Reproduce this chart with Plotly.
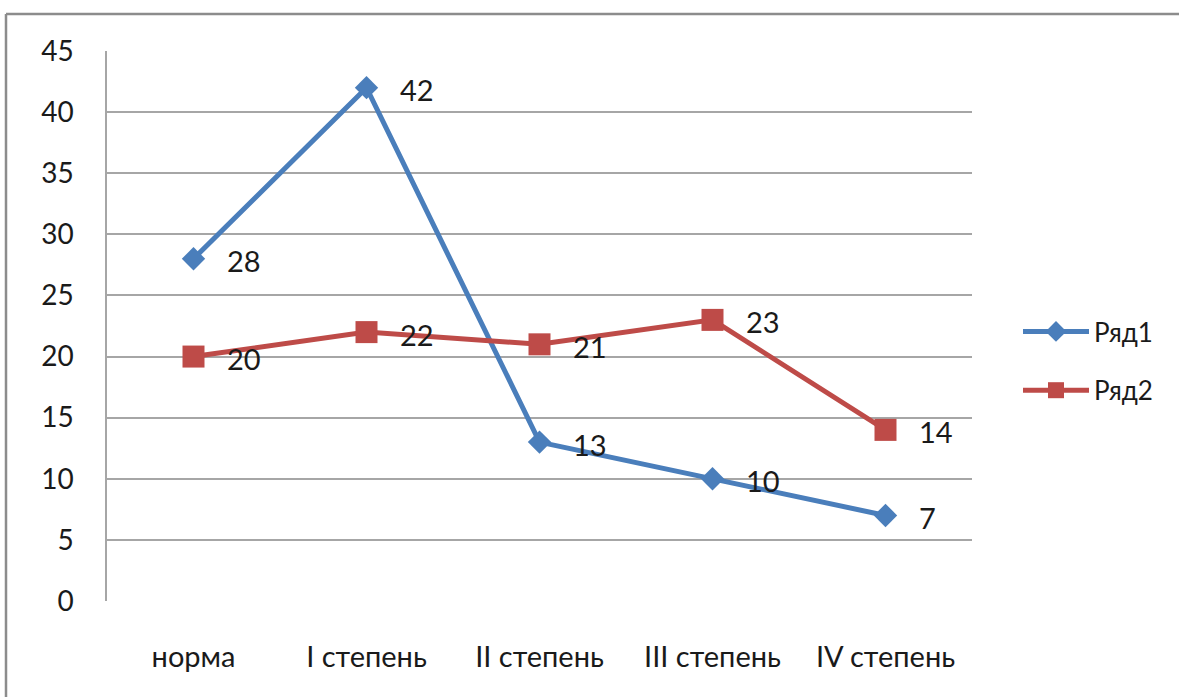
import plotly.graph_objects as go

categories = ["норма", "I степень", "II степень", "III степень", "IV степень"]
row1 = [28, 42, 13, 10, 7]
row2 = [20, 22, 21, 23, 14]
y_ticks = [0, 5, 10, 15, 20, 25, 30, 35, 40, 45]

FONT = "Lato, 'Open Sans', sans-serif"
BLUE = "#4a7ebb"
RED = "#be4b48"

fig = go.Figure()
fig.add_trace(go.Scatter(
    x=categories, y=row1, name="Ряд1", mode="lines+markers", legendgroup="a",
    line=dict(color=BLUE, width=5),
    marker=dict(symbol="diamond", size=18, color=BLUE),
))
fig.add_trace(go.Scatter(
    x=categories, y=row2, name="Ряд2", mode="lines+markers", legendgroup="b",
    line=dict(color=RED, width=5),
    marker=dict(symbol="square", size=22, color=RED),
))

# data labels to the right of each point
for series in (row1, row2):
    for cat, val in zip(categories, series):
        fig.add_annotation(
            x=cat, y=val, text=str(val), showarrow=False,
            xanchor="left", xshift=31, yshift=-2,
            font=dict(family=FONT, size=29, color="#1a1a1a"),
        )

# outer chart border (only top and left edges visible)
bx = (6 - 107) / 865
by = 1 + 37 / 550
fig.add_shape(type="line", xref="paper", yref="paper",
              x0=bx, x1=1.3, y0=by, y1=by,
              line=dict(color="#8c8c8c", width=2.5))
fig.add_shape(type="line", xref="paper", yref="paper",
              x0=bx, x1=bx, y0=by, y1=-0.3,
              line=dict(color="#8c8c8c", width=2.5))

fig.update_layout(
    width=1179, height=697,
    margin=dict(l=107, r=207, t=51, b=96),
    paper_bgcolor="white", plot_bgcolor="white",
    font=dict(family=FONT, size=29, color="#1a1a1a"),
    showlegend=True,
    legend=dict(
        x=(1018 - 107) / 865, y=(601 - 308) / 550, xanchor="left", yanchor="top",
        itemwidth=66, traceorder="grouped", tracegroupgap=22, font=dict(size=26),
        bgcolor="rgba(0,0,0,0)",
    ),
)
fig.update_xaxes(
    range=[-0.5, 4.5], showgrid=False, showline=False, zeroline=False,
    ticks="", ticklabelstandoff=36, tickfont=dict(size=29),
)
fig.update_yaxes(
    range=[0, 45], tickvals=y_ticks, showgrid=True, gridcolor="#a6a6a6", gridwidth=1.5,
    zeroline=False, showline=True, linecolor="#a6a6a6", linewidth=1.5,
    ticks="", ticklabelstandoff=26, tickfont=dict(size=28),
)

fig.write_html("out.html", config={"displayModeBar": False},
               post_script="document.body.style.margin='0';")
